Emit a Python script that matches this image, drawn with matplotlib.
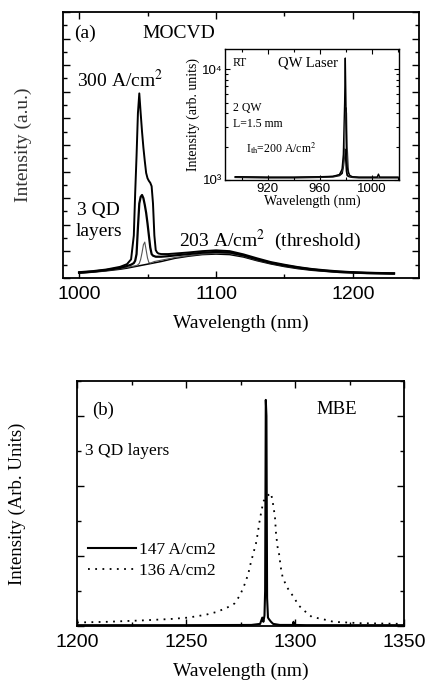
import matplotlib
matplotlib.use("Agg")
import matplotlib.pyplot as plt
from matplotlib.ticker import MultipleLocator, FixedLocator, NullFormatter, LogLocator

plt.rcParams['mathtext.fontset'] = 'stix'
SERIF = ['Liberation Serif', 'DejaVu Serif']
SANS = ['Liberation Sans', 'DejaVu Sans']

# ---------------- Panel (a) data: MOCVD ----------------
wl_a = [1000, 1010, 1020, 1030, 1035, 1038, 1040, 1041, 1042, 1043, 1044, 1045, 1046,
        1047, 1048, 1049, 1050, 1051, 1052, 1053, 1054, 1055, 1056, 1057, 1058, 1060,
        1065, 1070, 1080, 1090, 1100, 1110, 1120, 1130, 1140, 1150, 1160, 1170, 1180,
        1190, 1200, 1210, 1220, 1230]
i_300 = [0.22, 0.26, 0.32, 0.42, 0.52, 0.70, 1.60, 3.20, 4.60, 6.20, 6.94, 6.20, 5.50,
         4.90, 4.40, 3.95, 3.75, 3.65, 3.58, 3.45, 2.80, 1.60, 1.05, 0.96, 0.92, 0.90,
         0.90, 0.92, 0.96, 1.01, 1.04, 1.01, 0.89, 0.74, 0.60, 0.50, 0.41, 0.34, 0.29,
         0.25, 0.22, 0.20, 0.19, 0.18]
i_mid = [0.20, 0.24, 0.30, 0.38, 0.45, 0.50, 0.56, 0.65, 0.90, 1.90, 2.80, 3.05, 3.12,
         3.00, 2.75, 2.45, 2.05, 1.60, 1.15, 0.90, 0.84, 0.82, 0.80, 0.80, 0.80, 0.80,
         0.82, 0.85, 0.90, 0.95, 0.98, 0.96, 0.85, 0.70, 0.57, 0.47, 0.39, 0.32, 0.27,
         0.23, 0.21, 0.19, 0.18, 0.17]
i_low = [0.19, 0.23, 0.28, 0.35, 0.40, 0.43, 0.45, 0.46, 0.47, 0.50, 0.55, 0.70, 0.95,
         1.25, 1.35, 1.05, 0.75, 0.58, 0.56, 0.58, 0.60, 0.62, 0.63, 0.64, 0.65, 0.67,
         0.72, 0.77, 0.84, 0.90, 0.93, 0.92, 0.82, 0.67, 0.55, 0.45, 0.37, 0.31, 0.26,
         0.22, 0.20, 0.18, 0.17, 0.16]
i_thr = [0.18, 0.22, 0.27, 0.33, 0.37, 0.40, 0.42, 0.43, 0.44, 0.45, 0.46, 0.47, 0.48,
         0.49, 0.50, 0.51, 0.52, 0.53, 0.54, 0.55, 0.56, 0.57, 0.58, 0.59, 0.60, 0.62,
         0.68, 0.74, 0.82, 0.88, 0.90, 0.88, 0.79, 0.65, 0.53, 0.43, 0.35, 0.29, 0.25,
         0.21, 0.19, 0.17, 0.16, 0.15]

# ---------------- Inset data: QW laser ----------------
wl_in = [895, 920, 940, 960, 970, 975, 977, 978, 979, 979.5, 980, 980.5, 981, 982, 983,
         985, 990, 1000, 1004, 1005, 1006, 1010, 1020]
in_high = [1070, 1060, 1060, 1070, 1080, 1120, 1250, 1700, 5000, 12600, 5000, 1800, 1300,
           1150, 1100, 1070, 1060, 1060, 1060, 1130, 1060, 1060, 1060]
in_mid = [1065, 1055, 1055, 1065, 1075, 1110, 1200, 1350, 1800, 3000, 4500, 4000, 2000,
          1200, 1080, 1065, 1055, 1055, 1055, 1055, 1055, 1055, 1055]
in_low = [1060, 1050, 1050, 1060, 1070, 1100, 1150, 1350, 1900, 1800, 1500, 1200, 1100,
          1080, 1070, 1060, 1050, 1050, 1050, 1050, 1050, 1050, 1050]

# ---------------- Panel (b) data: MBE ----------------
wl_147 = [1200, 1250, 1280, 1284, 1285, 1285.5, 1286, 1286.3, 1286.6, 1286.9, 1287.2,
          1287.6, 1288, 1289, 1290, 1293, 1299, 1299.3, 1299.6, 1305, 1320, 1350]
i_147 = [0.012, 0.012, 0.015, 0.03, 0.12, 0.06, 0.15, 0.5, 3.23, 3.0, 0.4, 0.12, 0.10,
         0.06, 0.03, 0.015, 0.015, 0.06, 0.015, 0.012, 0.012, 0.012]
wl_136 = [1200, 1214, 1230, 1243, 1251, 1259, 1264, 1268.7, 1272.2, 1274.8, 1277.1,
          1278.6, 1279.7, 1280.9, 1282.1, 1282.9, 1283.6, 1284.4, 1285.5, 1287.3, 1289,
          1290, 1290.8, 1291.3, 1292, 1292.8, 1293.4, 1294.3, 1296.2, 1297.7, 1299.7,
          1301.5, 1303.8, 1307.7, 1313, 1317.6, 1330, 1350]
i_136 = [0.05, 0.06, 0.08, 0.10, 0.12, 0.16, 0.20, 0.26, 0.32, 0.44, 0.61, 0.75, 0.90,
         1.04, 1.18, 1.32, 1.47, 1.61, 1.78, 1.86, 1.90, 1.73, 1.56, 1.32, 1.13, 1.01,
         0.85, 0.70, 0.56, 0.49, 0.40, 0.30, 0.23, 0.13, 0.096, 0.06, 0.04, 0.03]
legend_labels = ['147 A/cm2', '136 A/cm2']

W, H = 426, 683
fig = plt.figure(figsize=(W / 100, H / 100), dpi=100)


def px_axes(l, t, r, b):
    return fig.add_axes([l / W, 1 - b / H, (r - l) / W, (b - t) / H])


def style_ticks(ax, major_len=5, minor_len=3):
    ax.tick_params(which='both', direction='in', top=True, right=True, width=1.0)
    ax.tick_params(which='major', length=major_len)
    ax.tick_params(which='minor', length=minor_len)
    for s in ax.spines.values():
        s.set_linewidth(1.3)


# ---- Panel (a) ----
ax1 = px_axes(63, 12, 419, 278)
ax1.plot(wl_a, i_thr, color='black', lw=1.1)
ax1.plot(wl_a, i_low, color='#555555', lw=0.8)
ax1.plot(wl_a, i_mid, color='black', lw=1.6)
ax1.plot(wl_a, i_300, color='black', lw=1.4)
ax1.set_xlim(988.3, 1248.2)
ax1.set_ylim(0, 10)
ax1.xaxis.set_major_locator(MultipleLocator(100))
ax1.xaxis.set_minor_locator(MultipleLocator(50))
ax1.yaxis.set_major_locator(MultipleLocator(1))
ax1.yaxis.set_minor_locator(MultipleLocator(0.5))
ax1.yaxis.set_major_formatter(NullFormatter())
style_ticks(ax1)
for lab in ax1.get_xticklabels():
    lab.set_family(SANS)
    lab.set_fontsize(14)
ax1.tick_params(axis='x', pad=6)
ax1.set_xlabel('Wavelength (nm)', family=SERIF, fontsize=14, labelpad=8)
ax1.set_ylabel('Intensity (a.u.)', family=SERIF, fontsize=14, labelpad=19, color='#333333')

def ftext(x, y, s, size, **kw):
    fig.text(x / W, 1 - y / H, s, fontsize=size, family=SERIF, va='center', ha='left', **kw)

ftext(74, 33, '(a)', 14)
ftext(142, 33, 'MOCVD', 14)
ftext(77, 80, '300 A/cm$^2$', 14)
ftext(77, 210, '3 QD', 14)
ftext(76, 232, 'layers', 14)
ftext(179, 240, '203 A/cm$^2$  (threshold)', 14)

# ---- Inset ----
axi = px_axes(225, 49, 399, 180)
axi.plot(wl_in, in_low, color='black', lw=1.3)
axi.plot(wl_in, in_mid, color='#444444', lw=0.8)
axi.plot(wl_in, in_high, color='black', lw=1.0)
axi.set_yscale('log')
axi.set_xlim(887, 1020.8)
axi.set_ylim(1000, 15200)
axi.xaxis.set_major_locator(FixedLocator([920, 960, 1000]))
axi.xaxis.set_minor_locator(MultipleLocator(20))
axi.yaxis.set_major_locator(FixedLocator([1000, 10000]))
axi.yaxis.set_minor_locator(LogLocator(base=10, subs=range(2, 10)))
axi.yaxis.set_minor_formatter(NullFormatter())
axi.set_yticklabels(['10³', '10⁴'])
axi.tick_params(which='both', direction='in', top=True, right=True, width=0.8, pad=2)
axi.tick_params(which='major', length=3.5)
axi.tick_params(which='minor', length=2)
for s in axi.spines.values():
    s.set_linewidth(1.0)
for lab in axi.get_xticklabels() + axi.get_yticklabels():
    lab.set_family(SANS)
    lab.set_fontsize(9.5)
axi.set_xlabel('Wavelength (nm)', family=SERIF, fontsize=10, labelpad=0)
axi.set_ylabel('Intensity (arb. units)', family=SERIF, fontsize=10, labelpad=1)

ftext(233, 63, 'RT', 8.5)
ftext(278, 63, 'QW Laser', 10.5)
ftext(233, 108, '2 QW', 8.5)
ftext(233, 124, 'L=1.5 mm', 8.5)
ftext(246, 148, 'I$_{\\rm th}$=200 A/cm$^2$', 8.5)

# ---- Panel (b) ----
ax2 = px_axes(77, 381, 404, 626)
l1, = ax2.plot(wl_147, i_147, color='black', lw=1.5)
l2, = ax2.plot(wl_136, i_136, color='black', lw=1.3, linestyle=(0, (1, 3)))
ax2.set_xlim(1200, 1350)
ax2.set_ylim(0, 3.5)
ax2.xaxis.set_major_locator(MultipleLocator(50))
ax2.xaxis.set_minor_locator(MultipleLocator(25))
ax2.yaxis.set_major_locator(MultipleLocator(1))
ax2.yaxis.set_minor_locator(MultipleLocator(0.5))
ax2.yaxis.set_major_formatter(NullFormatter())
style_ticks(ax2)
for lab in ax2.get_xticklabels():
    lab.set_family(SANS)
    lab.set_fontsize(14)
ax2.tick_params(axis='x', pad=6)
ax2.set_xlabel('Wavelength (nm)', family=SERIF, fontsize=14, labelpad=8)
ax2.set_ylabel('Intensity (Arb. Units)', family=SERIF, fontsize=13.5, labelpad=33)

ftext(92, 410, '(b)', 13.5)
ftext(316, 410, 'MBE', 13.5)
ftext(85, 451, '3 QD layers', 12.5)

leg = ax2.legend([l1, l2], legend_labels, loc='center left',
                 bbox_to_anchor=((88 - 77) / 327, (626 - 560.5) / 245),
                 frameon=False, borderpad=0, borderaxespad=0,
                 handlelength=2.75, handletextpad=0.2, labelspacing=0.25,
                 prop={'family': SERIF, 'size': 12.5})

fig.savefig('out.png', dpi=100)
